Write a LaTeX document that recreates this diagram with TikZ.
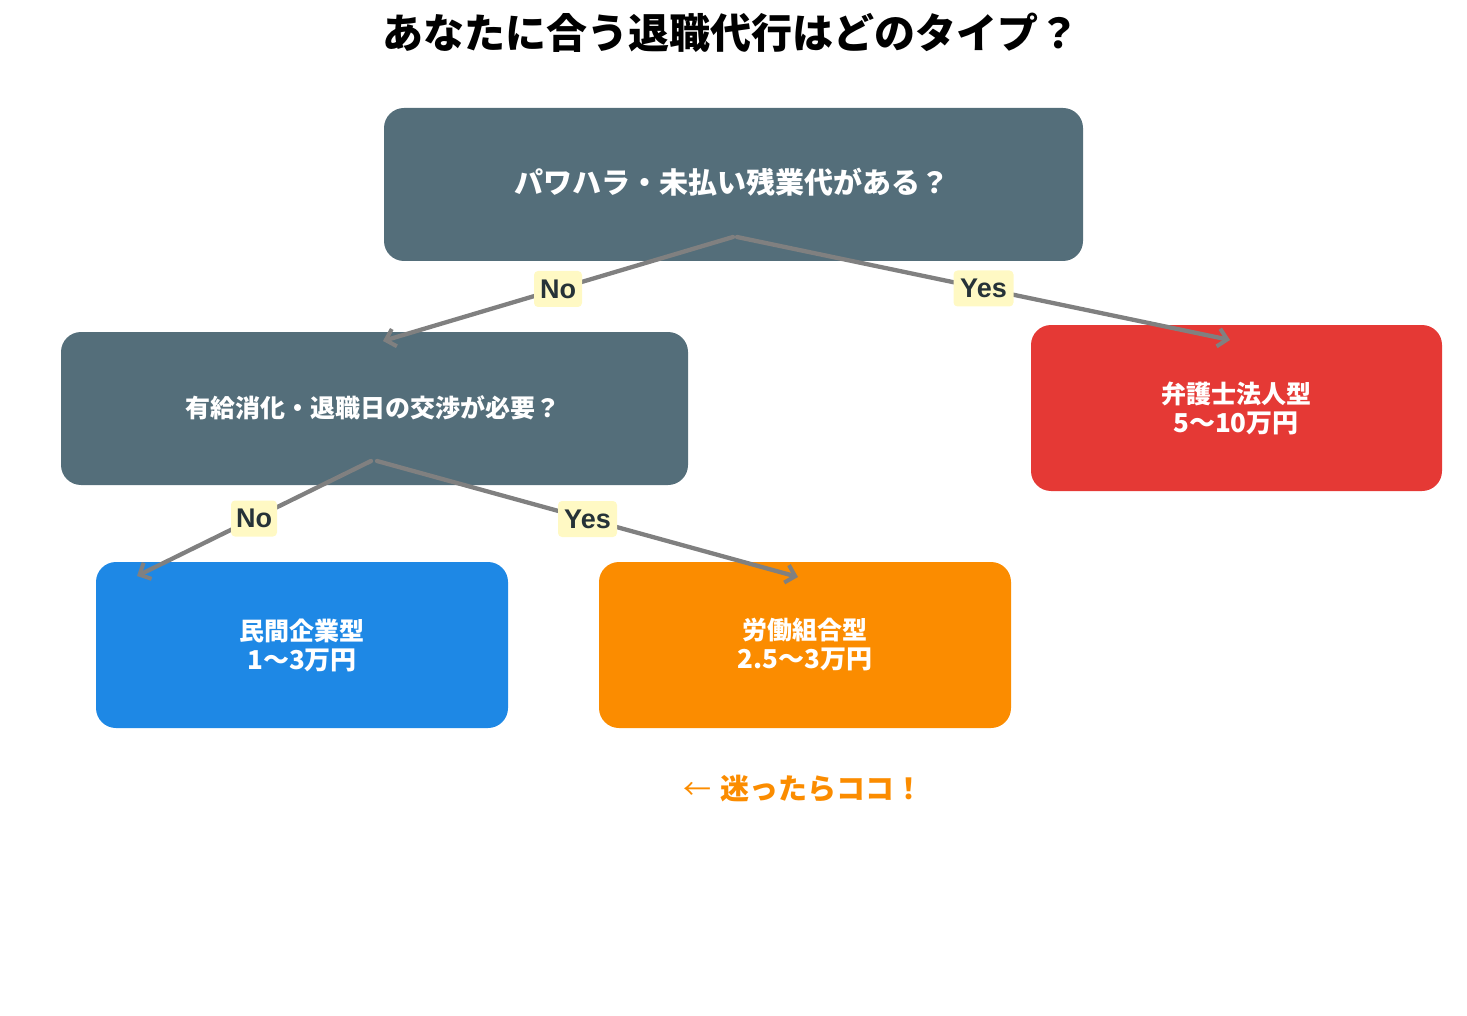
\documentclass[tikz,border=0pt]{standalone}
\usepackage{fontspec}
\setmainfont{Noto Sans CJK JP}
\newfontfamily\latinb{Liberation Sans}
\usetikzlibrary{arrows.meta}
\definecolor{slate}{HTML}{546E7A}
\definecolor{redbox}{HTML}{E53935}
\definecolor{bluebox}{HTML}{1E88E5}
\definecolor{orangebox}{HTML}{FB8C00}
\definecolor{labelbg}{HTML}{FFF9C4}
\definecolor{labeltext}{HTML}{263238}
\definecolor{arrowgray}{HTML}{808080}
\tikzset{
  boxnode/.style={rounded corners=20pt, inner sep=0pt, text=white, align=center,
    font=\fontsize{25}{30}\selectfont\bfseries},
  conn/.style={draw=arrowgray, line width=4.3pt, line cap=round,
    -{Straight Barb[length=9pt,width=18pt,line width=4pt]}},
  lbl/.style={fill=labelbg, rounded corners=4pt, inner sep=0pt, minimum height=36pt,
    text=labeltext, font=\fontsize{27}{30}\selectfont\latinb\bfseries},
}
\newcommand{\amt}[1]{{\fontsize{26}{30}\selectfont #1}}
\begin{document}
\begin{tikzpicture}[x=1pt,y=-1pt]
\useasboundingbox (0,0) rectangle (1467,1016);
% title
\node[font=\fontsize{41}{48}\selectfont\bfseries] (title) at (731,33) {あなたに合う退職代行はどのタイプ？};
% boxes
\path[fill=slate, rounded corners=20pt] (384,108) rectangle (1083,261);
\node[boxnode, font=\fontsize{29}{34}\selectfont\bfseries] (root) at (732,182) {パワハラ・未払い残業代がある？};
\path[fill=slate, rounded corners=20pt] (61,332) rectangle (688,485);
\node[boxnode] (q2) at (373,408) {有給消化・退職日の交渉が必要？};
\path[fill=redbox, rounded corners=20pt] (1031,325) rectangle (1442,491);
\node[boxnode] (lawyer) at (1236,408) {弁護士法人型\\[-1pt]\amt{5〜10万円}};
\path[fill=bluebox, rounded corners=20pt] (96,562) rectangle (508,728);
\node[boxnode] (private) at (302,645) {民間企業型\\[-1pt]\amt{1〜3万円}};
\path[fill=orangebox, rounded corners=20pt] (599,562) rectangle (1011,728);
\node[boxnode] (union) at (805,645) {労働組合型\\[-1pt]\amt{2.5〜3万円}};
% connector end points
\coordinate (rootL) at (733,237);
\coordinate (rootR) at (737,237);
\coordinate (q2in) at (383,341);
\coordinate (lawin) at (1230,340);
\coordinate (q2L) at (371,461);
\coordinate (q2R) at (377,461);
\coordinate (privin) at (137,576);
\coordinate (unionin) at (798,577);
% connectors
\draw[conn] (rootL) -- node[lbl, minimum width=48pt] (n1) {No} (q2in);
\draw[conn] (rootR) -- node[lbl, minimum width=60pt] (y1) {Yes} (lawin);
\draw[conn] (q2L) -- node[lbl, minimum width=46pt] (n2) {No} (privin);
\draw[conn] (q2R) -- node[lbl, minimum width=59pt] (y2) {Yes} (unionin);
% note
\node[anchor=west, text=orangebox, inner sep=0pt, font=\fontsize{28}{34}\selectfont] (note) at (683,789) {←\hspace{9pt}{\fontsize{29}{34}\selectfont\bfseries 迷ったらココ！}};
\end{tikzpicture}
\end{document}
